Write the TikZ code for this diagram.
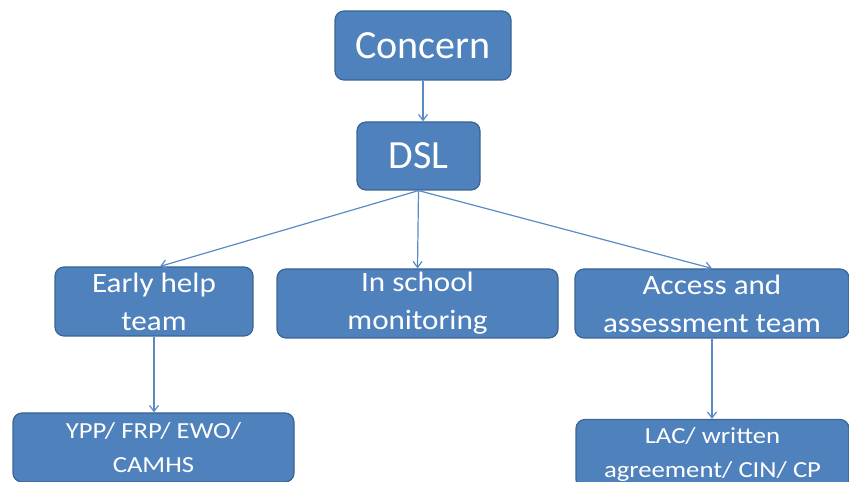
\documentclass[tikz,border=0pt]{standalone}
\usepackage{fontspec}
\setmainfont{Carlito}
\usetikzlibrary{arrows.meta}
\definecolor{boxfill}{HTML}{4F81BD}
\definecolor{boxline}{HTML}{3A6594}
\definecolor{arrowc}{HTML}{5A8AC6}
\newcommand{\midfont}{\fontsize{28}{38}\selectfont\addfontfeature{FakeStretch=1.11}}
\newcommand{\lowfont}{\fontsize{23}{34}\selectfont\addfontfeature{FakeStretch=1.16}}
\begin{document}
\begin{tikzpicture}[x=1pt,y=1pt,
  box/.style={draw=boxline, line width=1.2pt, fill=boxfill, rounded corners=9pt,
    text=white, align=center, inner sep=0pt},
  conn/.style={draw=arrowc, line width=1.2pt, -{Straight Barb[length=6pt,width=9pt]}}]
\useasboundingbox (0,0) rectangle (849,482);
\node[box, minimum width=176pt, minimum height=69pt, font=\fontsize{40}{44}\selectfont] (concern) at (423,436.5) {Concern};
\node[box, minimum width=123pt, minimum height=68pt, font=\fontsize{40}{44}\selectfont] (dsl) at (418.5,326) {DSL};
\node[box, minimum width=198pt, minimum height=69pt, font=\midfont] (early) at (154,180.5) {Early help\\team};
\node[box, minimum width=281pt, minimum height=69pt, font=\midfont] (school) at (417.5,178.5) {In school\\monitoring};
\node[box, minimum width=274pt, minimum height=69pt, font=\midfont] (access) at (712,178.5) {Access and\\assessment team};
\node[box, minimum width=281pt, minimum height=69pt, font=\lowfont] (ypp) at (153.5,34.5) {YPP/ FRP/ EWO/\\CAMHS};
\node[box, minimum width=273pt, minimum height=69pt, font=\lowfont] (lac) at (712.5,28) {LAC/ written\\agreement/ CIN/ CP};
\draw[conn] (concern.south) -- (dsl.north -| concern.south);
\draw[conn] (dsl.south) -- ([xshift=6pt]early.north);
\draw[conn] (dsl.south) -- (school.north);
\draw[conn] (dsl.south) -- (access.north);
\draw[conn] (early.south) -- (ypp.north -| early.south);
\draw[conn] (access.south) -- (lac.north -| access.south);
\end{tikzpicture}
\end{document}
